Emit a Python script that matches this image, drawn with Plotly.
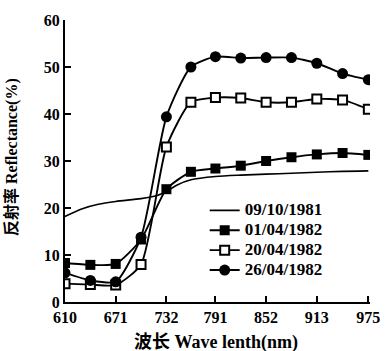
import plotly.graph_objects as go

wl = [610, 640.5, 671, 701.5, 732, 761.5, 791, 821.5, 852, 882.5, 913, 944, 975]
s0104 = [8.3, 7.9, 8.1, 13.3, 24.0, 27.7, 28.4, 29.0, 30.0, 30.8, 31.4, 31.7, 31.3]
s2004 = [3.9, 3.7, 3.6, 8.0, 33.0, 42.5, 43.5, 43.4, 42.5, 42.5, 43.2, 43.0, 41.0]
s2604 = [6.2, 4.6, 4.3, 13.8, 39.4, 50.0, 52.2, 51.9, 52.0, 52.0, 50.8, 48.6, 47.3]
wl_0910 = [610, 630, 650, 671, 701.5, 720, 732, 745, 761.5, 791, 821.5, 852, 882.5, 913, 944, 975]
s0910 = [18.2, 19.8, 20.8, 21.4, 22.0, 22.6, 23.5, 24.9, 26.0, 26.7, 27.0, 27.2, 27.4, 27.6, 27.8, 27.9]
xticks = [610, 671, 732, 791, 852, 913, 975]
yticks = [0, 10, 20, 30, 40, 50, 60]
names = ["09/10/1981", "01/04/1982", "20/04/1982", "26/04/1982"]

SERIF = "Liberation Serif"
def lbl(t):
    return '<span style="font-size:17px">' + t + '</span>'

fig = go.Figure()
fig.add_trace(go.Scatter(x=wl_0910, y=s0910, mode="lines", name=lbl(names[0]),
                         line=dict(color="black", width=1.6, shape="spline", smoothing=0.8)))
fig.add_trace(go.Scatter(x=wl, y=s0104, mode="lines+markers", name=lbl(names[1]),
                         line=dict(color="black", width=1.9, shape="spline", smoothing=0.6),
                         marker=dict(symbol="square", size=10, color="black")))
fig.add_trace(go.Scatter(x=wl, y=s2004, mode="lines+markers", name=lbl(names[2]),
                         line=dict(color="black", width=1.9, shape="spline", smoothing=0.6),
                         marker=dict(symbol="square", size=9, color="white",
                                     line=dict(color="black", width=2))))
fig.add_trace(go.Scatter(x=wl, y=s2604, mode="lines+markers", name=lbl(names[3]),
                         line=dict(color="black", width=1.9, shape="spline", smoothing=0.6),
                         marker=dict(symbol="circle", size=11, color="black")))

tf = dict(family=SERIF, size=16, color="black", weight="bold")
fig.update_layout(
    width=392, height=351,
    margin=dict(l=65, r=14, t=17, b=49),
    paper_bgcolor="white", plot_bgcolor="white",
    font=dict(family=SERIF, size=15, color="black"),
    showlegend=True,
    legend=dict(x=0.458, y=0.378, xanchor="left", yanchor="top",
                bgcolor="rgba(0,0,0,0)", itemwidth=30, tracegroupgap=0,
                font=dict(family=SERIF, size=13, color="black", weight="bold")),
    xaxis=dict(range=[610, 977], tickvals=xticks, ticktext=[str(t) for t in xticks],
               showgrid=False, zeroline=False, showline=True, linecolor="black",
               linewidth=2, ticks="inside", ticklen=6, tickwidth=1.5, tickcolor="black",
               tickfont=tf),
    yaxis=dict(range=[0, 60], tickvals=yticks, showgrid=False, zeroline=False,
               showline=True, linecolor="black", linewidth=2, ticks="inside",
               ticklen=6, tickwidth=1.5, tickcolor="black", tickfont=tf),
    annotations=[
        dict(text="波长 Wave lenth(nm)", xref="paper", yref="paper",
             x=0.495, y=-0.145, xanchor="center", yanchor="middle", showarrow=False,
             font=dict(family=SERIF + ", Noto Sans CJK SC", size=18, weight="bold")),
        dict(text="反射率 Reflectance(%)", xref="paper", yref="paper",
             x=-0.173, y=0.515, xanchor="center", yanchor="middle", showarrow=False,
             textangle=-90,
             font=dict(family=SERIF + ", Noto Sans CJK SC", size=16, weight="bold")),
    ],
)
fig.write_html("out.html")
